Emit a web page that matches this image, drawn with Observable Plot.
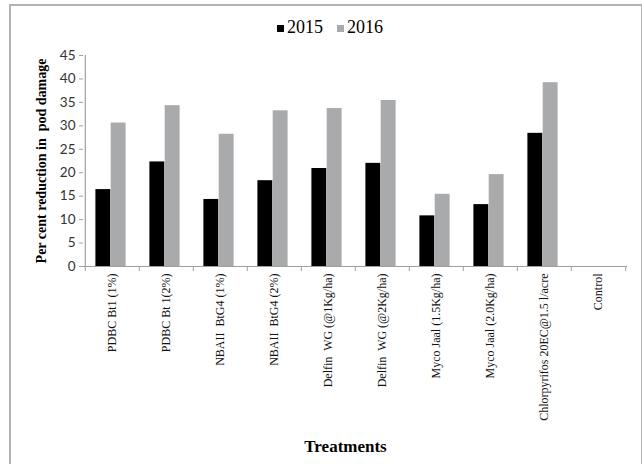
<!DOCTYPE html>
<html><head><meta charset="utf-8">
<script src="https://cdn.jsdelivr.net/npm/d3@7"></script>
<script src="https://cdn.jsdelivr.net/npm/@observablehq/plot@0.6"></script>
<style>
body{margin:0;background:#fff;width:642px;height:464px;overflow:hidden;position:relative}
#frame{position:absolute;left:9px;top:4px;width:630px;height:470px;border:2px solid #b3b3b3;}
#legend{position:absolute;top:14px;left:0;width:660px;text-align:center;font-family:"Liberation Serif",serif;font-size:18px;color:#000;line-height:26px}
#legend span.sw{display:inline-block;width:7px;height:7px;margin-right:3px;vertical-align:1px}
#legend span.item{margin:0 7px}
#chart{position:absolute;left:0;top:40px}
</style></head><body>
<div id="frame"></div><div id="legend"></div><div id="chart"></div>
<script>
const treatments = [
  "PDBC Bt1 (1%)",
  "PDBC Bt 1(2%)",
  "NBAII  BtG4 (1%)",
  "NBAII  BtG4 (2%)",
  "Delfin  WG (@1Kg/ha)",
  "Delfin  WG (@2Kg/ha)",
  "Myco Jaal (1.5Kg/ha)",
  "Myco Jaal (2.0Kg/ha)",
  "Chlorpyrifos 20EC@1.5 l/acre",
  "Control"
];
const years = ["2015", "2016"];
const values2015 = [16.4, 22.3, 14.3, 18.3, 20.9, 22.0, 10.8, 13.2, 28.4, 0];
const values2016 = [30.6, 34.3, 28.2, 33.2, 33.7, 35.4, 15.4, 19.6, 39.2, 0];
const yTicks = [0, 5, 10, 15, 20, 25, 30, 35, 40, 45];
const colors = ["#000000", "#a8aaac"];
const yLabel = "Per cent reduction in  pod damage";
const xLabel = "Treatments";

const rows2015 = treatments.map((t, i) => ({treatment: t, year: years[0], value: values2015[i]}));
const rows2016 = treatments.map((t, i) => ({treatment: t, year: years[1], value: values2016[i]}));

// legend
const lg = document.getElementById("legend");
years.forEach((y, i) => {
  const it = document.createElement("span"); it.className = "item";
  const sw = document.createElement("span"); sw.className = "sw"; sw.style.background = colors[i];
  it.appendChild(sw); it.appendChild(document.createTextNode(y));
  lg.appendChild(it);
});

const W = 642, H = 420, ML = 83, MR = 15, MT = 15, MB = 194;
const bw = (W - ML - MR) / treatments.length;
const barW = 15.3;
const outer = bw / 2 - barW;
const axisGray = "#a0a0a0";

const chart = Plot.plot({
  width: W, height: H,
  marginLeft: ML, marginRight: MR, marginTop: MT, marginBottom: MB,
  x: {domain: treatments, padding: 0, axis: null},
  y: {domain: [0, 45], axis: null},
  style: {background: "transparent", overflow: "visible"},
  marks: [
    Plot.barY(rows2015, {x: "treatment", y: "value", fill: colors[0], insetLeft: outer - 1.5, insetRight: bw / 2 + 1.5}),
    Plot.barY(rows2016, {x: "treatment", y: "value", fill: colors[1], insetLeft: bw / 2 - 1.5, insetRight: outer + 1.5}),
    Plot.ruleY([0], {stroke: axisGray, strokeWidth: 1.2}),
    Plot.ruleX([treatments[0]], {x: d => d, y1: 0, y2: 45, dx: -bw / 2, stroke: axisGray, strokeWidth: 1.2}),
    Plot.axisY({ticks: yTicks, tickSize: 4, tickPadding: 4, stroke: axisGray, fill: "#333", fontFamily: "Lato", fontSize: 13.5, label: null}),
    Plot.axisX({ticks: treatments, text: null, tickSize: 5, dx: -bw / 2, stroke: axisGray, label: null}),
    Plot.axisX({ticks: [treatments[treatments.length - 1]], text: null, tickSize: 5, dx: bw / 2, stroke: axisGray, label: null}),
    Plot.axisX({ticks: treatments, tickSize: 0, tickPadding: 7, tickRotate: -90, fill: "#111", fontFamily: "Liberation Serif", fontSize: 12, label: null}),
    Plot.text([yLabel], {text: d => d, frameAnchor: "left", textAnchor: "middle", rotate: -90, dx: -42, fontFamily: "Liberation Serif", fontWeight: "bold", fontSize: 14, fill: "#000"}),
    Plot.text([xLabel], {text: d => d, frameAnchor: "bottom", textAnchor: "middle", dx: -10, dy: 185, fontFamily: "Liberation Serif", fontWeight: "bold", fontSize: 17, fill: "#000"})
  ]
});
document.getElementById("chart").appendChild(chart);
</script>
</body></html>
